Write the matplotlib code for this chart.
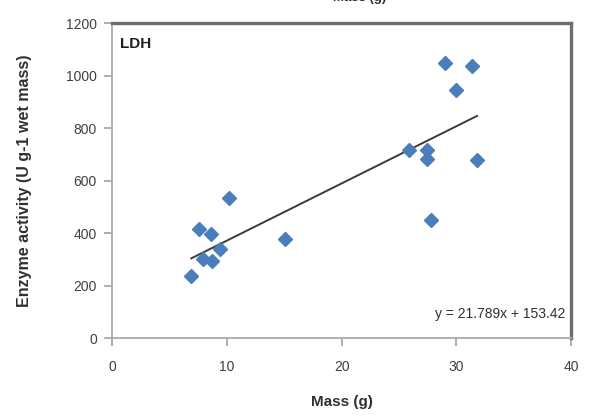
import matplotlib.pyplot as plt

plt.rcParams['font.family'] = ['Liberation Sans', 'DejaVu Sans']

# LDH activity vs body mass
mass = [6.9, 7.6, 7.9, 8.6, 8.7, 9.4, 10.2, 15.1,
        25.9, 27.4, 27.4, 27.8, 29.0, 30.0, 31.4, 31.8]
activity = [236, 414, 300, 398, 293, 338, 535, 376,
            715, 717, 683, 451, 1047, 945, 1037, 677]

# Linear trendline y = slope * x + intercept
slope = 21.789
intercept = 153.42

fig = plt.figure(figsize=(5.9, 4.2), dpi=100)
ax = fig.add_axes([0.19, 0.195, 0.778, 0.75])

ax.plot(mass, activity, linestyle='none', marker='D', ms=7,
        color='#4A7EBB', zorder=3)

x0, x1 = min(mass), max(mass)
ax.plot([x0, x1], [slope * x0 + intercept, slope * x1 + intercept],
        color='#3a3a3a', lw=1.4, zorder=2)

ax.set_xlim(0, 40)
ax.set_ylim(0, 1200)
ax.set_xticks([0, 10, 20, 30, 40])
ax.set_yticks(range(0, 1201, 200))
ax.tick_params(direction='out', length=6, width=1.2, color='#a0a0a0',
               labelsize=10, labelcolor='#404040', pad=5)
ax.tick_params(axis='x', pad=10)

for side in ['left', 'bottom']:
    ax.spines[side].set_color('#b0b0b0')
    ax.spines[side].set_linewidth(1.4)
for side in ['top', 'right']:
    ax.spines[side].set_color('#6e6e6e')
    ax.spines[side].set_linewidth(2.4)

ax.set_xlabel('Mass (g)', fontsize=11, fontweight='bold', color='#303030',
              labelpad=15)
ax.set_ylabel('Enzyme activity (U g-1 wet mass)', fontsize=11.5,
              fontweight='bold', color='#303030', labelpad=24)

ax.text(0.017, 0.955, 'LDH', transform=ax.transAxes, fontsize=11,
        fontweight='bold', color='#202020', va='top', ha='left')
ax.text(0.987, 0.075, 'y = 21.789x + 153.42', transform=ax.transAxes,
        fontsize=10, color='#303030', ha='right', va='center')

# x-axis label of the panel above, cut by the top edge
fig.text(0.61, 0.998, 'Mass (g)', fontsize=9.5, fontweight='bold',
         color='#303030', ha='center', va='baseline')

fig.savefig('out.png', dpi=100)
